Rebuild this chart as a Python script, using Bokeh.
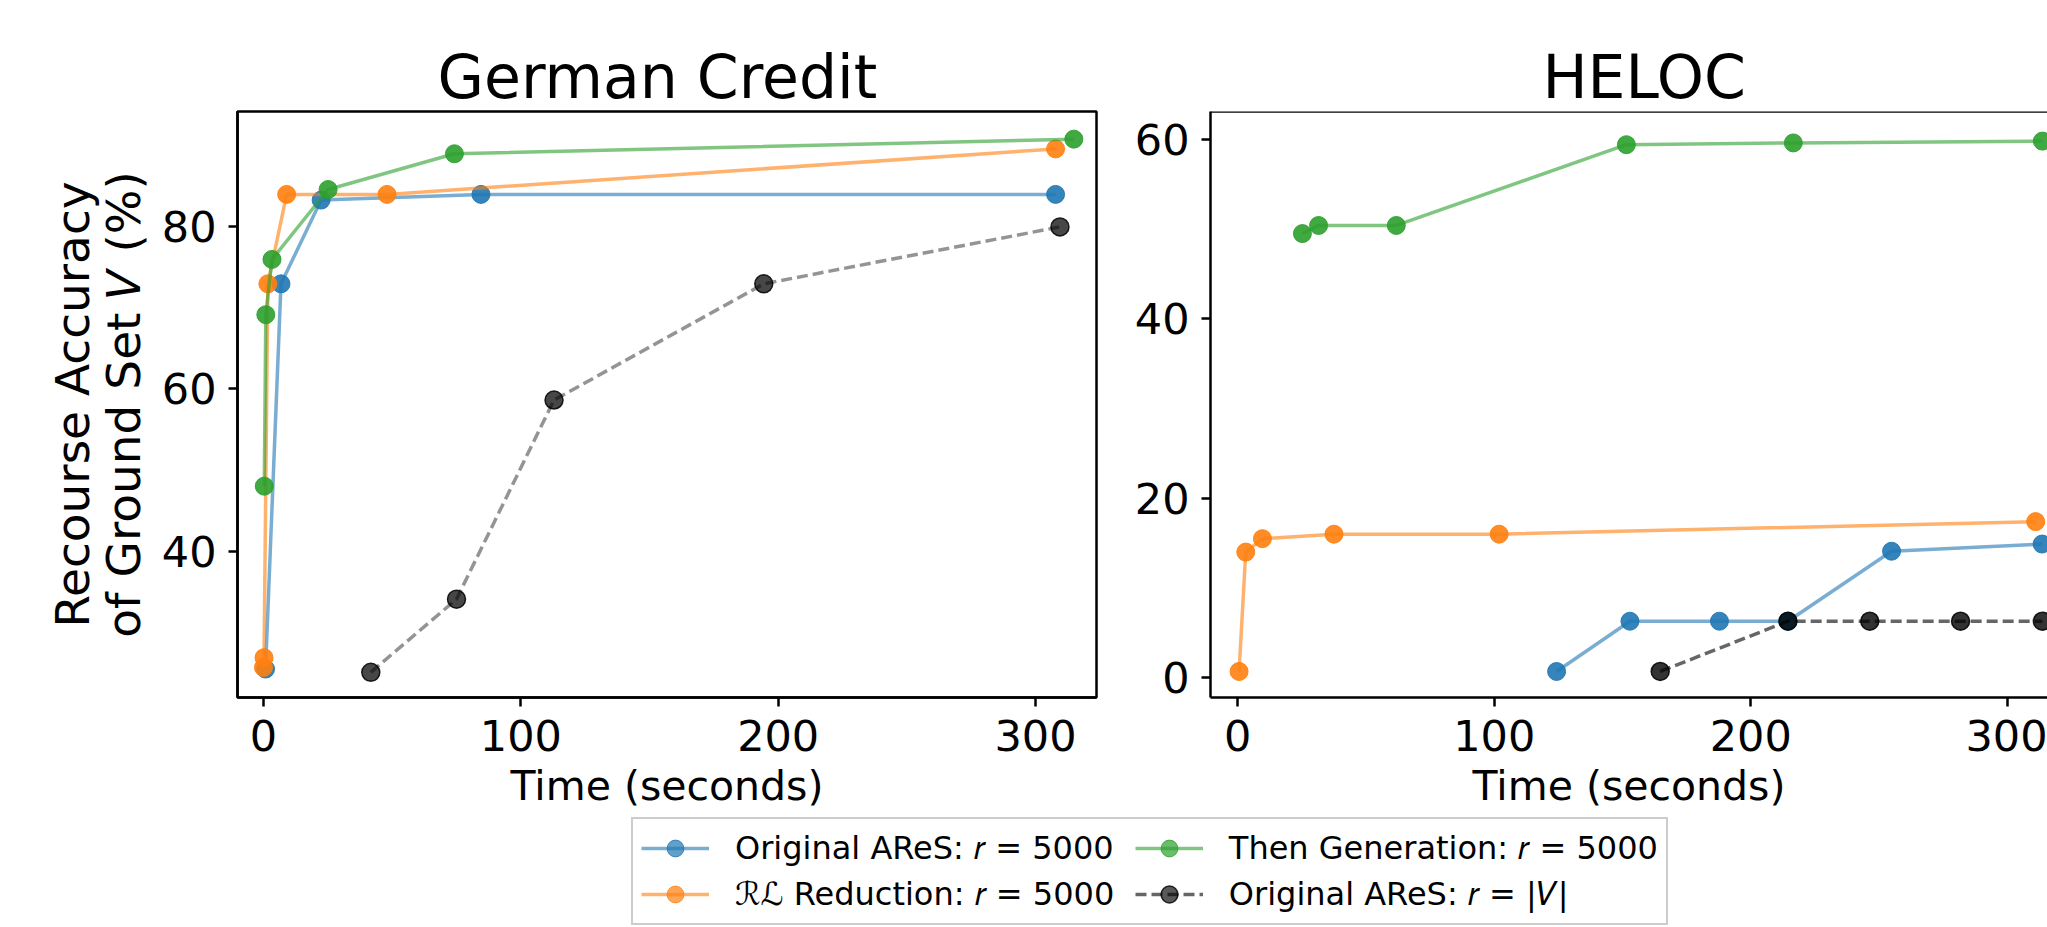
from bokeh.plotting import figure
from bokeh.models import Range1d, FixedTicker, Span, Legend, LegendItem
from bokeh.layouts import column, row
from bokeh.embed import file_html
from bokeh.resources import INLINE

FONT = "DejaVu Sans"
IT_V = "\U0001D449"
IT_R = "\U0001D45F"

# ---------------- data ----------------
series_labels = [
    f"Original AReS: {IT_R} = 5000",
    "\u211B\u2112 Reduction: " + IT_R + " = 5000",
    f"Then Generation: {IT_R} = 5000",
    f"Original AReS: {IT_R} = |{IT_V}|",
]

# German Credit
gc_ares_x = [0.8, 6.8, 22.4, 84.5, 307.8]
gc_ares_y = [25.5, 72.9, 83.2, 83.9, 83.9]
gc_rl_x = [0.0, 0.2, 1.7, 9.0, 48.0, 307.8]
gc_rl_y = [25.7, 26.9, 72.9, 83.9, 83.9, 89.5]
gc_gen_x = [0.3, 0.9, 3.3, 25.1, 74.2, 314.9]
gc_gen_y = [48.0, 69.1, 75.9, 84.5, 88.9, 90.7]
gc_full_x = [41.7, 75.0, 112.9, 194.4, 309.5]
gc_full_y = [25.1, 34.1, 58.6, 72.9, 79.9]

# HELOC
he_ares_x = [124.3, 152.9, 187.8, 214.5, 254.9, 313.6]
he_ares_y = [0.7, 6.3, 6.3, 6.3, 14.1, 14.9]
he_rl_x = [0.5, 3.1, 9.6, 37.5, 101.9, 311.1]
he_rl_y = [0.7, 14.0, 15.5, 16.0, 16.0, 17.4]
he_gen_x = [25.2, 31.5, 61.8, 151.5, 216.6, 313.7]
he_gen_y = [49.5, 50.4, 50.4, 59.4, 59.6, 59.8]
he_full_x = [164.7, 214.5, 246.4, 281.8, 313.7]
he_full_y = [0.7, 6.3, 6.3, 6.3, 6.3]

x_ticks = [0, 100, 200, 300]
gc_y_ticks = [40, 60, 80]
he_y_ticks = [0, 20, 40, 60]

titles = ["German Credit", "HELOC"]
x_label = "Time (seconds)"
y_label = f"Recourse Accuracy\nof Ground Set {IT_V} (%)"

colors = ["#1f77b4", "#ff7f0e", "#2ca02c", "black"]

LW = 3.5
MS = 18


def style(p, yticks):
    p.xgrid.visible = False
    p.ygrid.visible = False
    p.xaxis.ticker = FixedTicker(ticks=x_ticks)
    p.yaxis.ticker = FixedTicker(ticks=yticks)
    for ax in list(p.xaxis) + list(p.yaxis):
        ax.axis_line_width = 2.5
        ax.axis_line_color = "black"
        ax.major_tick_line_width = 2.5
        ax.major_tick_line_color = "black"
        ax.major_tick_out = 9
        ax.major_tick_in = 0
        ax.minor_tick_line_color = None
        ax.major_label_text_font = FONT
        ax.major_label_text_font_size = "43px"
        ax.major_label_text_color = "black"
        ax.axis_label_text_font = FONT
        ax.axis_label_text_font_style = "normal"
        ax.axis_label_text_color = "black"
    p.xaxis.axis_label_text_font_size = "41px"
    p.yaxis.axis_label_text_font_size = "47px"
    p.yaxis.axis_label_text_line_height = 0.92
    p.xaxis.major_label_standoff = 13
    p.xaxis.axis_label_standoff = 8
    p.yaxis.major_label_standoff = 12
    p.yaxis.axis_label_standoff = 8
    p.title.text_font = FONT
    p.title.text_font_size = "60px"
    p.title.text_font_style = "normal"
    p.title.text_color = "black"
    p.title.align = "left"
    p.title.standoff = 0


def draw(p, xs, ys, dark_alpha_line, dark_alpha_fill):
    for i, (x, y) in enumerate(zip(xs, ys)):
        c = colors[i]
        if i < 3:
            p.line(x, y, line_color=c, line_alpha=0.6, line_width=LW)
            p.scatter(x, y, marker="circle", size=MS, fill_color=c, fill_alpha=0.9,
                      line_color=c, line_alpha=0.9, line_width=1)
        else:
            p.line(x, y, line_color="black", line_alpha=dark_alpha_line, line_width=LW,
                   line_dash="11 5")
            p.scatter(x, y, marker="circle", size=MS, fill_color="black", fill_alpha=dark_alpha_fill,
                      line_color="black", line_alpha=0.85, line_width=1.5)


# ---------------- German Credit ----------------
p1 = figure(width=1116, height=814,
            x_range=Range1d(-10.1, 323.7), y_range=Range1d(22.0, 94.1),
            output_backend="svg", toolbar_location=None,
            min_border_left=237, min_border_right=20, min_border_top=111, min_border_bottom=117,
            title=titles[0], x_axis_label=x_label, y_axis_label=y_label,
            background_fill_color="white", border_fill_color="white")
p1.outline_line_color = "black"
p1.outline_line_width = 2.5
p1.outline_line_alpha = 1
style(p1, gc_y_ticks)
p1.title.offset = 200
draw(p1, [gc_ares_x, gc_rl_x, gc_gen_x, gc_full_x], [gc_ares_y, gc_rl_y, gc_gen_y, gc_full_y], 0.42, 0.72)

# ---------------- HELOC ----------------
he_xr = Range1d(-10.64, 315.7)
he_yr = Range1d(-2.2, 63.1)
p2 = figure(width=931, height=814,
            x_range=he_xr, y_range=he_yr,
            output_backend="svg", toolbar_location=None,
            min_border_left=94, min_border_right=0, min_border_top=111, min_border_bottom=117,
            title=titles[1], x_axis_label=x_label,
            background_fill_color="white", border_fill_color="white")
p2.outline_line_color = None
style(p2, he_y_ticks)
p2.title.offset = 332
p2.add_layout(Span(location=he_yr.end, dimension="width", line_color="black", line_width=2.5))
draw(p2, [he_ares_x, he_rl_x, he_gen_x, he_full_x], [he_ares_y, he_rl_y, he_gen_y, he_full_y], 0.6, 0.8)

# ---------------- Legend ----------------
# proxy renderers reuse the German Credit series; the ranges keep them out of view
pl = figure(width=2047, height=113, output_backend="svg", toolbar_location=None,
            x_range=Range1d(-2000, -1999), y_range=Range1d(-2000, -1999),
            x_axis_location=None, y_axis_location=None, min_border=0,
            background_fill_color="white", border_fill_color="white")
pl.outline_line_color = None
pl.xgrid.visible = False
pl.ygrid.visible = False

proxy_x = [gc_ares_x, gc_rl_x, gc_gen_x, gc_full_x]
proxy_y = [gc_ares_y, gc_rl_y, gc_gen_y, gc_full_y]
items = []
for i, lab in enumerate(series_labels):
    c = colors[i]
    if i < 3:
        lr = pl.line(proxy_x[i], proxy_y[i], line_color=c, line_alpha=0.6, line_width=LW)
        sr = pl.scatter(proxy_x[i], proxy_y[i], marker="circle", fill_color=c, fill_alpha=0.7,
                        line_color=c, line_alpha=0.8, line_width=1)
    else:
        lr = pl.line(proxy_x[i], proxy_y[i], line_color="black", line_alpha=0.6, line_width=LW,
                     line_dash="11 5")
        sr = pl.scatter(proxy_x[i], proxy_y[i], marker="circle", fill_color="black", fill_alpha=0.65,
                        line_color="black", line_alpha=0.8, line_width=1.5)
    label = lab + ("\u00a0\u2009" if i < 2 else "")
    items.append(LegendItem(label=label, renderers=[lr, sr]))

legend = Legend(items=items, orientation="vertical", ncols=2, location=(631, 2),
                glyph_width=68, glyph_height=42, label_standoff=26, spacing=4,
                padding=8, margin=0, label_height=38,
                label_text_font=FONT, label_text_font_size="32px", label_text_color="black",
                border_line_color="#cccccc", border_line_width=2, border_line_alpha=1,
                background_fill_color="white", background_fill_alpha=0.8)
pl.add_layout(legend)

layout = column(row(p1, p2), pl)

open("out.html", "w").write(file_html(layout, INLINE))
